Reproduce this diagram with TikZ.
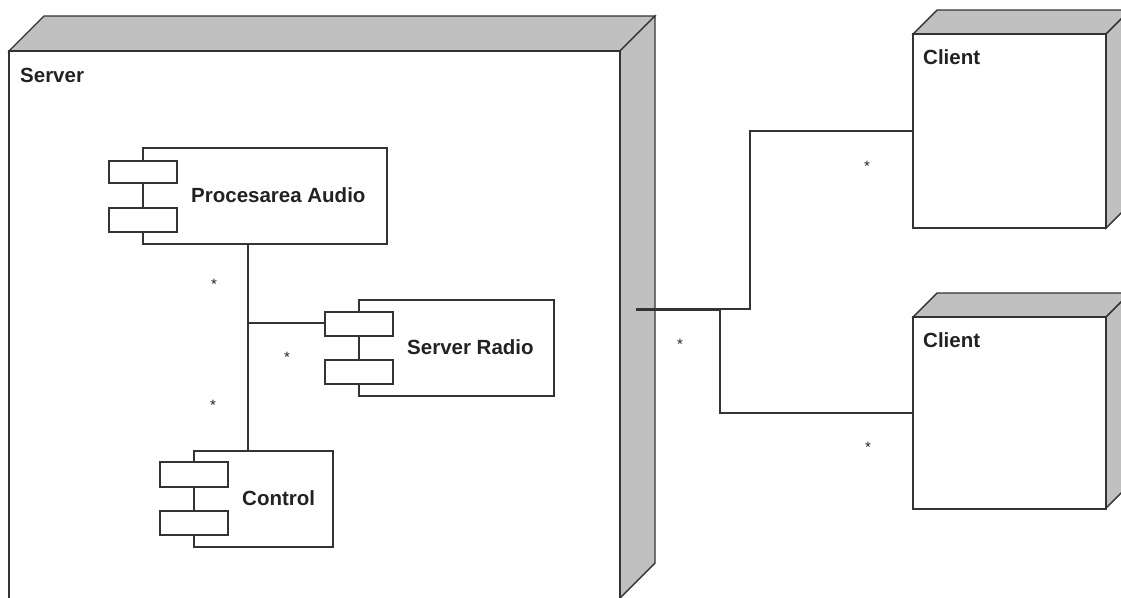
\documentclass[tikz,border=0pt]{standalone}
\usepackage{fontspec}
\setmainfont{Liberation Sans}
\definecolor{lc}{HTML}{333333}
\definecolor{gr}{HTML}{C0C0C0}
\definecolor{tc}{HTML}{222222}
\begin{document}
\begin{tikzpicture}[x=1pt,y=-1pt,
  ln/.style={draw=lc, line width=1.4pt, line join=miter},
  box/.style={ln, fill=white, inner sep=0pt, outer sep=0pt, anchor=north west},
  side/.style={ln, fill=gr},
  lbl/.style={font=\fontsize{20.5}{24}\selectfont\bfseries, text=tc, inner sep=0pt, anchor=base west},
  mult/.style={font=\fontsize{15}{15}\selectfont, inner sep=0pt, text=tc}]
\useasboundingbox (0,0) rectangle (1121,597);
% ---------- Server node ----------
\filldraw[side] (9,51) -- (44,16) -- (655,16) -- (620,51) -- cycle;
\filldraw[side] (620,51) -- (655,16) -- (655,563) -- (620,598) -- cycle;
\node[box, minimum width=611pt, minimum height=550pt] (srv) at (9,51) {};
\node[lbl] (srvl) at (20,82) {Server};
% ---------- Client nodes ----------
\filldraw[side] (913,34) -- (937,10) -- (1130,10) -- (1106,34) -- cycle;
\filldraw[side] (1106,34) -- (1130,10) -- (1130,204) -- (1106,228) -- cycle;
\node[box, minimum width=193pt, minimum height=194pt] (c1) at (913,34) {};
\node[lbl] (c1l) at (923,64) {Client};
\filldraw[side] (913,317) -- (937,293) -- (1130,293) -- (1106,317) -- cycle;
\filldraw[side] (1106,317) -- (1130,293) -- (1130,484) -- (1106,508) -- cycle;
\node[box, minimum width=193pt, minimum height=192pt] (c2) at (913,317) {};
\node[lbl] (c2l) at (923,347) {Client};
% ---------- Components ----------
\node[box, minimum width=244pt, minimum height=96pt] (pa) at (143,148) {};
\node[box, minimum width=68pt, minimum height=22pt] (pa1) at (109,161) {};
\node[box, minimum width=68pt, minimum height=24pt] (pa2) at (109,208) {};
\node[lbl] (pal) at (191,202.5) {Procesarea Audio};
\node[box, minimum width=195pt, minimum height=96pt] (sr) at (359,300) {};
\node[box, minimum width=68pt, minimum height=24pt] (sr1) at (325,312) {};
\node[box, minimum width=68pt, minimum height=24pt] (sr2) at (325,360) {};
\node[lbl] (srl) at (407,354.5) {Server Radio};
\node[box, minimum width=139pt, minimum height=96pt] (ctl) at (194,451) {};
\node[box, minimum width=68pt, minimum height=25pt] (ctl1) at (160,462) {};
\node[box, minimum width=68pt, minimum height=24pt] (ctl2) at (160,511) {};
\node[lbl] (ctll) at (242,505.5) {Control};
% ---------- Connectors ----------
\coordinate (j1) at (248,323);
\draw[ln] (pa.south -| j1) -- (ctl.north -| j1);
\draw[ln] (j1) -- (sr1.west |- j1);
\coordinate (p0) at (636,309);
\coordinate (p1) at (720,309);
\coordinate (p2) at (750,309);
\draw[ln, line width=3pt] (p0) -- (p1);
\draw[ln] (p1) -- (p2) |- (c1.west);
\draw[ln] (p1) |- (c2.west);
% ---------- Multiplicities ----------
\node[mult] (m1) at (214,284) {*};
\node[mult] (m2) at (287,357) {*};
\node[mult] (m3) at (213,405) {*};
\node[mult] (m4) at (680,344) {*};
\node[mult] (m5) at (867,166) {*};
\node[mult] (m6) at (868,447) {*};
\end{tikzpicture}
\end{document}
